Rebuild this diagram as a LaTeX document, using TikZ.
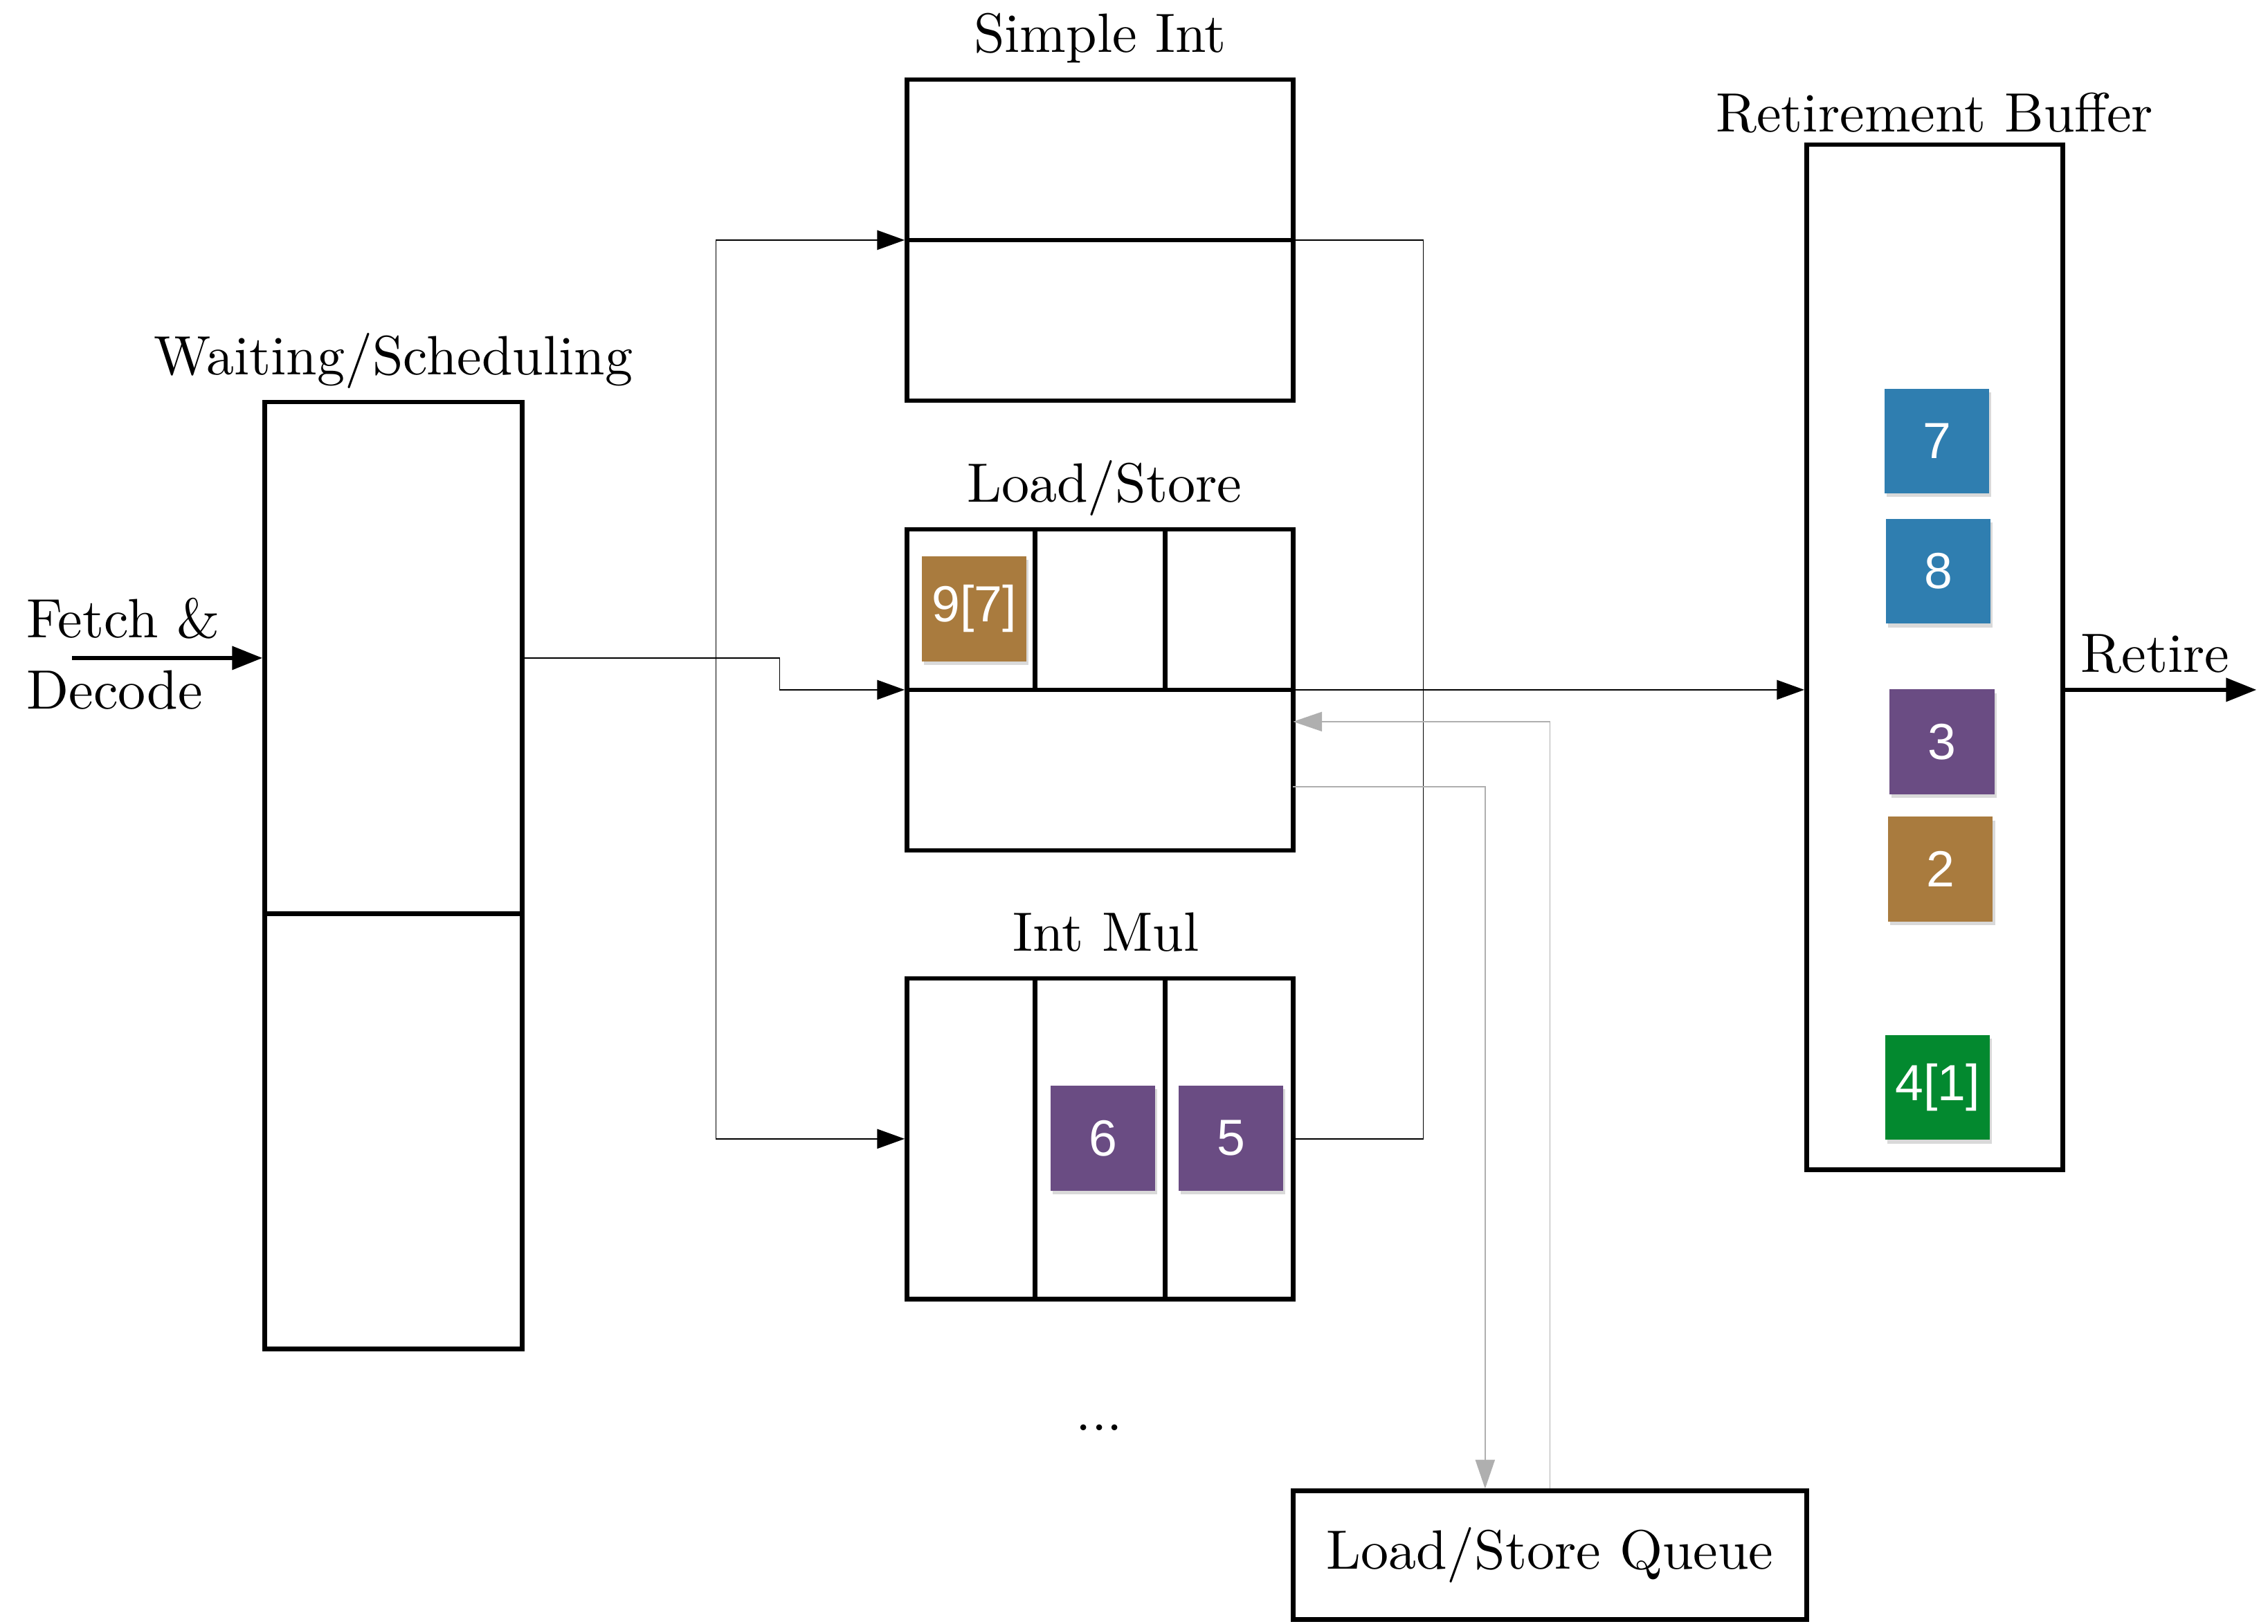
\documentclass[tikz,border=0pt]{standalone}
\usepackage{fontspec}
\setmainfont{lmroman10-regular.otf}
\newfontfamily\tagfont{Liberation Sans}
\usetikzlibrary{positioning}
\usetikzlibrary{arrows.meta}
\usetikzlibrary{calc}
\usetikzlibrary{shadows}
\definecolor{tagbrown}{RGB}{169,123,62}
\definecolor{tagpurple}{RGB}{106,76,131}
\definecolor{tagblue}{RGB}{47,126,176}
\definecolor{taggreen}{RGB}{3,137,47}
\definecolor{linegray}{RGB}{175,175,175}

\begin{document}
\begin{tikzpicture}[%
    x=0.02cm, y=-0.02cm,
    font=\fontsize{21.8}{28}\selectfont,
unitnode/.style={rectangle, draw=black, line width=1.8pt, minimum width=5.34cm, minimum height=4.44cm, inner sep=0pt},
bufnode/.style={rectangle, draw=black, line width=1.8pt, inner sep=0pt},
divider/.style={line width=1.8pt},
title/.style={anchor=base, inner sep=0pt},
tagnode/.style={rectangle, minimum size=1.45cm, inner sep=0pt, text=white, font=\tagfont\fontsize{20}{24}\selectfont, drop shadow={shadow xshift=0.03cm, shadow yshift=-0.05cm, opacity=0.3}},
line/.style={line width=0.46pt},
flow/.style={line width=0.46pt, -{Triangle[length=0.38cm, width=0.27cm]}},
thickflow/.style={line width=1.5pt, -{Triangle[length=0.42cm, width=0.32cm]}},
grayflow/.style={line width=0.4pt, draw=linegray, -{Triangle[length=0.4cm, width=0.27cm]}}
]
\useasboundingbox (0,0) rectangle (1568,1123);

% Scheduling
\node[bufnode, minimum width=3.56cm, minimum height=13.1cm] (wait) at (272,605.5) {};
\draw[divider] ($(wait.north west)!0.54!(wait.south west)$) -- ($(wait.north east)!0.54!(wait.south east)$);
\node[align=left, anchor=west, inner sep=0pt] (fetch) at (18,452) {Fetch \&\\Decode};

% Unit Nodes
\node[unitnode] (simple) at (760.5,166) {};
\node[unitnode] (ldst) at (760.5,477) {};
\node[unitnode] (intmul) at (760.5,787.5) {};
\node (more) at (760,987) {...};
\draw[divider] (simple.west) -- (simple.east);
\draw[divider] (ldst.west) -- (ldst.east);
\foreach \f in {0.3333,0.6667} {
  \draw[divider] ($(ldst.north west)!\f!(ldst.north east)$) -- ($(ldst.west)!\f!(ldst.east)$);
  \draw[divider] ($(intmul.north west)!\f!(intmul.north east)$) -- ($(intmul.south west)!\f!(intmul.south east)$);
}

% Queue and Buffer
\node[bufnode, minimum width=7.1cm, minimum height=1.78cm] (lsq) at (1071.5,1075.5) {Load/Store Queue};
\node[bufnode, minimum width=3.54cm, minimum height=14.18cm] (rob) at (1337.5,454.5) {};

% Titles
\node[title] (waittitle) at ([yshift=0.35cm]wait.north) {Waiting/Scheduling};
\node[title] (simpletitle) at ([yshift=0.35cm]simple.north) {Simple Int};
\node[title] (ldsttitle) at ([xshift=0.06cm, yshift=0.35cm]ldst.north) {Load/Store};
\node[title] (intmultitle) at ([xshift=0.08cm, yshift=0.35cm]intmul.north) {Int Mul};
\node[title] (robtitle) at ([yshift=0.15cm]rob.north) {Retirement Buffer};
\node[title] (retire) at (1490,465) {Retire};

% Instructions
\node[tagnode, fill=tagbrown] (i97) at (673.5,421) {9[7]};
\node[tagnode, fill=tagpurple] (i6) at (762.5,787) {6};
\node[tagnode, fill=tagpurple] (i5) at (851,787) {5};
\node[tagnode, fill=tagblue] (i7) at (1339,305) {7};
\node[tagnode, fill=tagblue] (i8) at (1340,395) {8};
\node[tagnode, fill=tagpurple] (i3) at (1342.5,513) {3};
\node[tagnode, fill=tagbrown] (i2) at (1341.5,601) {2};
\node[tagnode, fill=taggreen] (i41) at (1339.5,752) {4[1]};

% Lines
\coordinate (fetchin) at (50,455);
\coordinate (split) at (495,455);
\coordinate (bend) at (539,455);
\coordinate (join) at (984,477);
\coordinate (retireout) at (1560,477);
\coordinate (lsout) at (894,544);
\coordinate (lsin) at (894,499);
\draw[thickflow] (fetchin) -- (fetchin -| wait.west);
\draw[flow] (wait.east |- fetchin) -- (bend) |- (ldst.west);
\draw[flow] (split) |- (simple.west);
\draw[flow] (split) |- (intmul.west);
\draw[line] (simple.east) -| (join) |- (intmul.east);
\draw[flow] (ldst.east) -- (ldst.east -| rob.west);
\draw[thickflow] (ldst.east -| rob.east) -- (retireout);
\draw[grayflow] (lsout) -| ($(lsq.north west)!0.375!(lsq.north east)$);
\draw[grayflow] (lsq.north) |- (lsin);

\end{tikzpicture}
\end{document}
